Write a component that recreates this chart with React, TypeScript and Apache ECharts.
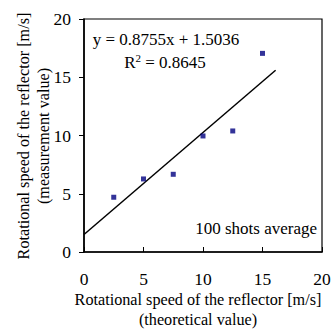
import React, { useEffect, useRef } from "react";
import * as echarts from "echarts";

const theoreticalSpeed = [2.5, 5, 7.5, 10, 12.5, 15];
const measuredSpeed = [4.7, 6.27, 6.67, 9.96, 10.39, 17.05];
const trendX = [0, 16.1];
const trendY = [1.5036, 15.6];
const xTicks = { min: 0, max: 20, interval: 5 };
const yTicks = { min: 0, max: 20, interval: 5 };
const equationText = "y = 0.8755x + 1.5036";
const r2Value = "0.8645";
const noteText = "100 shots average";
const xName = "Rotational speed of the reflector [m/s]\n(theoretical value)";
const yName = "Rotational speed of the reflector [m/s]\n(measurement value)";

const FONT = "'Liberation Serif', 'Times New Roman', serif";

export default function App() {
  const ref = useRef<HTMLDivElement>(null);
  useEffect(() => {
    if (!ref.current) return;
    const chart = echarts.init(ref.current, null, { renderer: "svg" });
    const textStyle = { fontFamily: FONT, fontSize: 17, fill: "#000" };
    const nameStyle = { fontFamily: FONT, fontSize: 16.2, fill: "#000" };
    chart.setOption({
      animation: false,
      backgroundColor: "#fff",
      grid: {
        left: 84,
        right: 12,
        top: 19,
        bottom: 80,
        show: true,
        borderColor: "#000",
        borderWidth: 1.2,
        backgroundColor: "transparent",
        outerBoundsMode: "none",
      },
      xAxis: {
        type: "value",
        min: xTicks.min,
        max: xTicks.max,
        interval: xTicks.interval,
        axisLine: { show: true, onZero: false, lineStyle: { color: "#000", width: 1.6 } },
        axisTick: { show: true, inside: true, length: 5, lineStyle: { color: "#000", width: 1 } },
        axisLabel: { color: "#000", fontFamily: FONT, fontSize: 17.5, margin: 18 },
        splitLine: { show: false },
      },
      yAxis: {
        type: "value",
        min: yTicks.min,
        max: yTicks.max,
        interval: yTicks.interval,
        axisLine: { show: true, onZero: false, lineStyle: { color: "#000", width: 1.6 } },
        axisTick: { show: true, inside: false, length: 5, lineStyle: { color: "#000", width: 1 } },
        axisLabel: { color: "#000", fontFamily: FONT, fontSize: 17.5, margin: 13 },
        splitLine: { show: false },
      },
      series: [
        {
          type: "line",
          data: trendX.map((x, i) => [x, trendY[i]]),
          showSymbol: false,
          symbol: "none",
          lineStyle: { color: "#000", width: 1.5 },
          z: 2,
        },
        {
          type: "scatter",
          data: theoreticalSpeed.map((x, i) => [x, measuredSpeed[i]]),
          symbol: "rect",
          symbolSize: 5,
          itemStyle: { color: "#000080" },
          z: 3,
        },
      ],
      graphic: [
        {
          type: "text",
          x: 166,
          y: 39,
          style: { ...textStyle, text: equationText, textAlign: "center", textVerticalAlign: "middle" },
        },
        {
          type: "text",
          x: 165,
          y: 62,
          style: {
            ...textStyle,
            text: "{a|R}{s|2}{a| = " + r2Value + "}",
            textAlign: "center",
            textVerticalAlign: "middle",
            rich: {
              a: { fontFamily: FONT, fontSize: 17, color: "#000" },
              s: { fontFamily: FONT, fontSize: 11, color: "#000", verticalAlign: "top", padding: [0, 0, 9, 0] },
            },
          },
        },
        {
          type: "text",
          x: 317,
          y: 228,
          style: { ...textStyle, text: noteText, textAlign: "right", textVerticalAlign: "middle" },
        },
        {
          type: "text",
          x: 198,
          y: 310,
          style: { ...nameStyle, text: xName, textAlign: "center", textVerticalAlign: "middle", lineHeight: 20 },
        },
        {
          type: "text",
          x: 34,
          y: 136,
          rotation: Math.PI / 2,
          style: { ...nameStyle, text: yName, textAlign: "center", textVerticalAlign: "middle", lineHeight: 20 },
        },
      ],
    });
    return () => chart.dispose();
  }, []);
  return <div ref={ref} style={{ width: 334, height: 332, position: "absolute", left: 0, top: 0 }} />;
}
